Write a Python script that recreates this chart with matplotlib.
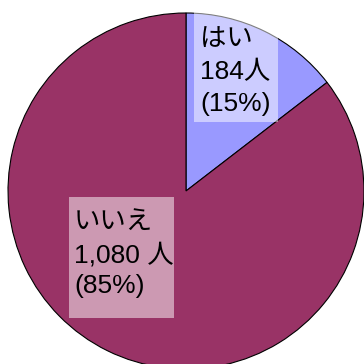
import matplotlib.pyplot as plt
from matplotlib.patches import Rectangle

labels = ["はい", "いいえ"]
counts = [184, 1080]
shares = ["15%", "85%"]
colors = ["#9999FF", "#993366"]

W = H = 364
CX, CY, R = 186, 191, 178


def px(x, y):
    # pixel (from top-left) -> data coords, pie radius = 1
    return (x - CX) / R, (CY - y) / R


fig = plt.figure(figsize=(W / 100, H / 100), dpi=100)
ax = fig.add_axes([0, 0, 1, 1])
ax.pie(counts, colors=colors, startangle=90, counterclock=False, radius=1,
       wedgeprops=dict(edgecolor="black", linewidth=0.8))
ax.set_xlim(px(0, 0)[0], px(W, 0)[0])
ax.set_ylim(px(0, H)[1], px(0, 0)[1])
ax.set_aspect("auto")
ax.axis("off")

font = ["Liberation Sans", "Noto Sans CJK JP"]
boxes = [(194, 11, 278, 122), (69, 197, 174, 318)]
text_x = [200, 74]
baselines = [(46, 79, 111), (229, 262, 293)]

for i in range(len(labels)):
    x0, y0, x1, y1 = boxes[i]
    bx, by = px(x0, y1)
    ax.add_patch(Rectangle((bx, by), (x1 - x0) / R, (y1 - y0) / R,
                           facecolor="white", alpha=0.5, edgecolor="none"))
    lines = [labels[i], f"{counts[i]:,} 人" if counts[i] >= 1000 else f"{counts[i]}人",
             f"({shares[i]})"]
    for line, yb in zip(lines, baselines[i]):
        tx, ty = px(text_x[i], yb)
        ax.text(tx, ty, line, family=font, fontsize=19, va="baseline", ha="left",
                color="black")

fig.savefig("out.png", dpi=100)
